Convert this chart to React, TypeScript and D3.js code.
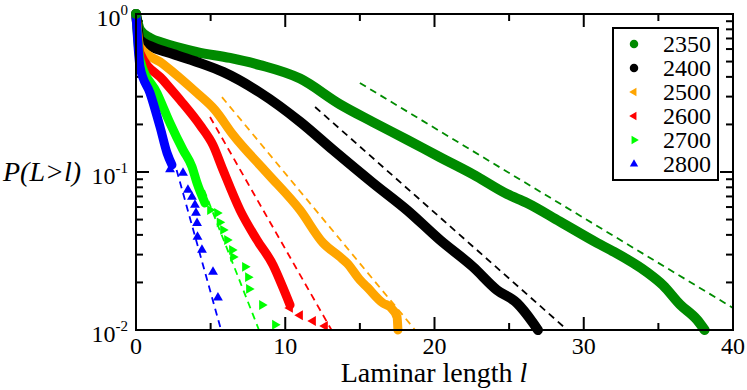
import React from 'react';
import * as d3 from 'd3';

const W = 747;
const H = 390;

// tick values
const xMajorTicks = [0, 10, 20, 30, 40];
const xMinorTicks = [5, 15, 25, 35];
const yMajorExps = [0, -1, -2];

// series: dense part [l, P]
const s2350: [number, number][] = [
  [0, 1], [0.27, 0.792], [0.94, 0.705], [1.81, 0.655], [4.09, 0.574], [6.3, 0.527],
  [8.31, 0.475], [10.99, 0.39], [13.67, 0.268], [15.88, 0.207], [18.16, 0.16],
  [20.37, 0.124], [22.58, 0.0966], [24.86, 0.0725], [26.2, 0.0637], [28.41, 0.0485],
  [30.89, 0.0356], [31.96, 0.0315], [34.24, 0.0232], [35.31, 0.0192], [36.45, 0.0145],
  [37.59, 0.0116], [38.1, 0.01],
];
const s2400: [number, number][] = [
  [0, 1], [0.27, 0.685], [0.94, 0.627], [2.28, 0.566], [4.09, 0.497], [5.83, 0.43],
  [8.31, 0.318], [10.99, 0.208], [13.2, 0.138], [15.88, 0.0851], [18.16, 0.0574],
  [20.37, 0.0371], [22.58, 0.0251], [24.19, 0.0179], [25.53, 0.0148], [26.6, 0.0111],
  [26.93, 0.01],
];
const s2500: [number, number][] = [
  [0, 1], [0.27, 0.618], [1.81, 0.483], [4.09, 0.316], [5.29, 0.247], [6.5, 0.172],
  [8.78, 0.0986], [10.99, 0.0574], [12.53, 0.0356], [13.67, 0.029], [14.14, 0.0265],
  [15.01, 0.0207], [15.48, 0.0187], [16.55, 0.0148], [17.02, 0.014], [17.49, 0.0121],
  [17.55, 0.01],
];
const s2600: [number, number][] = [
  [0, 1], [0.27, 0.566], [1.81, 0.382], [2.95, 0.286], [4.29, 0.198], [5.16, 0.148],
  [5.83, 0.103], [6.97, 0.0574], [8.11, 0.0371], [9.18, 0.0258], [9.85, 0.0185],
  [10.32, 0.0144],
];
const s2700: [number, number][] = [
  [0, 1], [0.27, 0.512], [1.41, 0.316], [2.28, 0.204], [3.15, 0.138], [3.75, 0.108],
  [4.09, 0.0851], [4.62, 0.0637],
];
const s2800: [number, number][] = [
  [0, 1], [0.27, 0.462], [0.94, 0.316], [1.61, 0.193], [2.08, 0.132], [2.41, 0.111],
];

// sparse tails (markers only)
const t2600: [number, number][] = [
  [10.32, 0.0138], [10.99, 0.0124], [11.86, 0.0114], [12.66, 0.0106],
];
const t2700: [number, number][] = [
  [4.96, 0.0574], [5.43, 0.055], [5.6, 0.048], [5.83, 0.043], [6.1, 0.0371],
  [6.43, 0.0321], [6.5, 0.029], [7.3, 0.0251], [7.5, 0.0216], [7.57, 0.0182],
  [8.44, 0.0144], [9.31, 0.0108],
];
const t2800: [number, number][] = [
  [2.28, 0.104], [3.15, 0.0986], [3.48, 0.0769], [3.75, 0.0695], [3.95, 0.0618],
  [4.02, 0.055], [4.09, 0.0475], [4.12, 0.0388], [4.42, 0.0321], [5.16, 0.0233],
  [5.49, 0.016],
];

// exponential fits (dashed)
const f2350: [number, number][] = [[15.0, 0.366], [40, 0.0138]];
const f2400: [number, number][] = [[12.0, 0.258], [28.9, 0.01]];
const f2500: [number, number][] = [[5.76, 0.298], [18.7, 0.01]];
const f2600: [number, number][] = [[4.96, 0.223], [13.1, 0.01]];
const f2700: [number, number][] = [[4.56, 0.0769], [8.24, 0.01]];
const f2800: [number, number][] = [[2.72, 0.103], [5.7, 0.01]];

const labels = ['2350', '2400', '2500', '2600', '2700', '2800'];
const colors = ['#008b00', '#000000', '#ffa500', '#ff0000', '#00ff00', '#0000ff'];
const shapes = ['circle', 'circle', 'left', 'left', 'right', 'up'];

const series = [
  { dense: s2350, tail: [] as [number, number][], fit: f2350 },
  { dense: s2400, tail: [] as [number, number][], fit: f2400 },
  { dense: s2500, tail: [] as [number, number][], fit: f2500 },
  { dense: s2600, tail: t2600, fit: f2600 },
  { dense: s2700, tail: t2700, fit: f2700 },
  { dense: s2800, tail: t2800, fit: f2800 },
];

const FONT = 'Liberation Serif';

function Marker({ shape, color, x, y, scale = 1 }: { shape: string; color: string; x: number; y: number; scale?: number }) {
  if (shape === 'circle') {
    return <circle cx={x} cy={y} r={5 * scale} fill={color} />;
  }
  const tri = d3.symbol().type(d3.symbolTriangle).size(42 * scale * scale)()!;
  const rot = shape === 'left' ? -90 : shape === 'right' ? 90 : 0;
  return <path d={tri} transform={`translate(${x},${y}) rotate(${rot})`} fill={color} />;
}

export default function App() {
  const x = d3.scaleLinear().domain([0, 40]).range([136, 733]);
  const y = d3.scaleLog().domain([0.01, 1]).range([330, 14]);
  const line = d3
    .line<[number, number]>()
    .x((d) => x(d[0]))
    .y((d) => y(d[1]))
    .curve(d3.curveMonotoneX);
  const straight = d3
    .line<[number, number]>()
    .x((d) => x(d[0]))
    .y((d) => y(d[1]));

  const yMinor: number[] = [];
  [-2, -1].forEach((e) => {
    for (let k = 2; k <= 9; k++) yMinor.push(k * Math.pow(10, e));
  });

  const left = x(0), right = x(40), top = y(1), bottom = y(0.01);

  return (
    <svg width={W} height={H} style={{ position: 'absolute', left: 0, top: 0, background: '#fff' }}>
      {/* ticks */}
      <g stroke="#000" strokeWidth={2}>
        {xMajorTicks.map((t) => (
          <g key={'xM' + t}>
            <line x1={x(t)} x2={x(t)} y1={bottom} y2={bottom - 13} />
            <line x1={x(t)} x2={x(t)} y1={top} y2={top + 13} />
          </g>
        ))}
        {xMinorTicks.map((t) => (
          <g key={'xm' + t}>
            <line x1={x(t)} x2={x(t)} y1={bottom} y2={bottom - 7} />
            <line x1={x(t)} x2={x(t)} y1={top} y2={top + 7} />
          </g>
        ))}
        {yMajorExps.map((e) => (
          <g key={'yM' + e}>
            <line x1={left} x2={left + 13} y1={y(Math.pow(10, e))} y2={y(Math.pow(10, e))} />
            <line x1={right} x2={right - 13} y1={y(Math.pow(10, e))} y2={y(Math.pow(10, e))} />
          </g>
        ))}
        {yMinor.map((v) => (
          <g key={'ym' + v}>
            <line x1={left} x2={left + 7} y1={y(v)} y2={y(v)} />
            <line x1={right} x2={right - 7} y1={y(v)} y2={y(v)} />
          </g>
        ))}
      </g>

      {/* fit lines */}
      {series.map((s, i) => (
        <path key={'f' + i} d={straight(s.fit)!} stroke={colors[i]} strokeWidth={1.8} strokeDasharray="7,5" fill="none" />
      ))}

      {/* data */}
      {series.map((s, i) => (
        <g key={'s' + i}>
          <path
            d={line(s.dense)!}
            stroke={colors[i]}
            strokeWidth={shapes[i] === 'circle' ? 10 : 9}
            strokeLinecap="round"
            strokeLinejoin="round"
            fill="none"
          />
          {s.tail.map((d, j) => (
            <Marker key={j} shape={shapes[i]} color={colors[i]} x={x(d[0])} y={y(d[1])} />
          ))}
        </g>
      ))}
      <Marker shape="circle" color={colors[0]} x={x(0)} y={y(1)} />

      {/* frame */}
      <rect x={left} y={top} width={right - left} height={bottom - top} fill="none" stroke="#000" strokeWidth={2} />

      {/* x tick labels */}
      {xMajorTicks.map((t) => (
        <text key={'xl' + t} x={x(t)} y={354} fontSize={24} fontFamily={FONT} textAnchor="middle">
          {t}
        </text>
      ))}
      {/* y tick labels */}
      {yMajorExps.map((e) => (
        <text key={'yl' + e} x={128} y={y(Math.pow(10, e)) + 12} fontSize={24} fontFamily={FONT} textAnchor="end">
          10
          <tspan dy={-11} fontSize={15}>
            {e}
          </tspan>
        </text>
      ))}

      {/* axis titles */}
      <text x={434} y={382} fontSize={28} fontFamily={FONT} textAnchor="middle">
        Laminar length <tspan fontStyle="italic">l</tspan>
      </text>
      <text x={3} y={181} fontSize={28} fontFamily={FONT} fontStyle="italic">
        P(L&gt;l)
      </text>

      {/* legend */}
      <rect x={613} y={28} width={105} height={152} fill="#fff" stroke="#000" strokeWidth={2} />
      {labels.map((lab, i) => {
        const cy = 44 + i * 24;
        return (
          <g key={'lg' + i}>
            <Marker shape={shapes[i]} color={colors[i]} x={634} y={cy} scale={0.85} />
            <text x={663} y={cy + 8} fontSize={24} fontFamily={FONT}>
              {lab}
            </text>
          </g>
        );
      })}
    </svg>
  );
}
